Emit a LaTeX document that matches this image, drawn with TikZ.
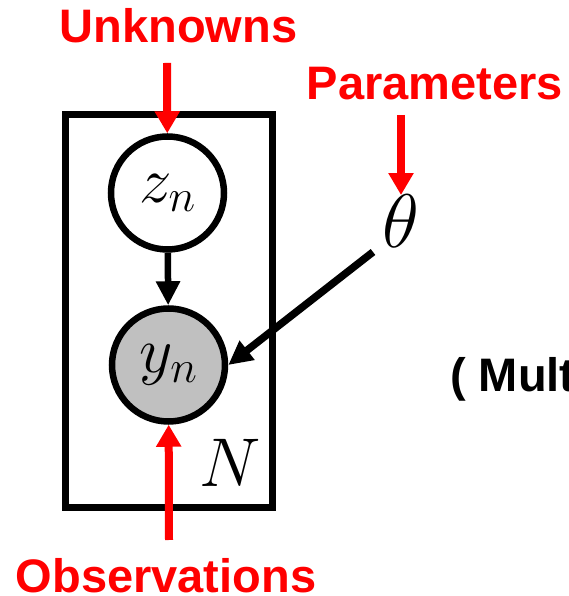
\documentclass[tikz,border=0pt]{standalone}
\usepackage{fix-cm}
\usepackage{fontspec}
\newfontfamily\lblfont{Liberation Sans}
\usetikzlibrary{arrows.meta}
\definecolor{obsgray}{RGB}{192,192,192}
\begin{document}
\begin{tikzpicture}[x=1pt,y=1pt,
  lbl/.style={red,font=\lblfont\bfseries\fontsize{47}{50}\selectfont,inner sep=0pt,anchor=base},
  var/.style={circle,draw,line width=6.5pt,minimum size=113pt,inner sep=0pt,font=\fontsize{65}{70}\selectfont},
  redarrow/.style={red,line width=8pt,-{Triangle[length=22pt,width=24pt]}},
  blkarrow/.style={line width=6.5pt,-{Triangle[length=24pt,width=23pt]}}]
\useasboundingbox (0,0) rectangle (569,596);
% plate
\draw[line width=7.5pt] (65.5,88.5) rectangle (272.5,481.5);
\node[font=\fontsize{69}{72}\selectfont] (N) at (230,133) {$N$};
% variables
\node[var] (z) at (167.5,403) {$z_n$};
\node[var,fill=obsgray] (y) at (168.5,231) {$y_n$};
\node[inner sep=0pt,anchor=base,font=\fontsize{76}{80}\selectfont] (theta) at (401,348) {$\theta$};
% labels
\node[lbl] (unk) at (178.5,553) {Unknowns};
\node[lbl] (par) at (435,496) {Parameters};
\node[lbl] (obs) at (166,3) {Observations};
\node[lbl,black,anchor=base west] (mult) at (450,204) {( Mult};
% arrows
\coordinate (unkTail) at (167,533);
\coordinate (parTail) at (401,481);
\coordinate (obsTail) at (169,56);
\coordinate (thetaTail) at (373,344);
\draw[redarrow] (unkTail) -- (z);
\draw[redarrow] (parTail) -- (theta.north);
\draw[redarrow] (obsTail) -- (y);
\draw[blkarrow] (z) -- (y);
\draw[blkarrow,line width=7.5pt] (thetaTail) -- (y.east);
\end{tikzpicture}
\end{document}
